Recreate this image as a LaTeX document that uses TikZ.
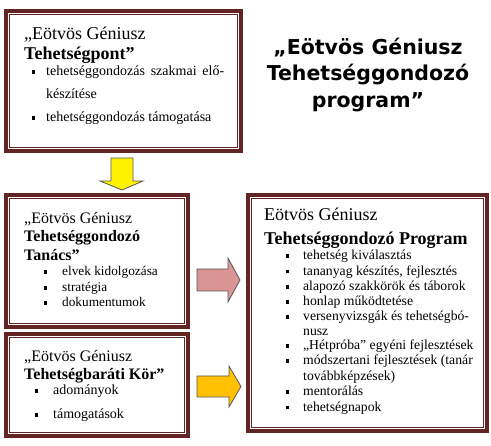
\documentclass[tikz,border=0pt]{standalone}
\usepackage{fontspec}
\setmainfont{Liberation Serif}
\newfontfamily\titlefont{DejaVu Sans}
\usepackage{tikz}

\definecolor{framered}{HTML}{632523}
\definecolor{arrowpink}{HTML}{D99594}
\definecolor{arroworange}{HTML}{FFC000}
\newcommand{\itm}[1][17.6pt]{\makebox[#1][l]{\raisebox{2.15pt}{\rule{3.4pt}{3.4pt}}}}

\begin{document}
\begin{tikzpicture}[x=1pt,y=-1pt,
  box/.style={draw=framered,line width=4pt,rectangle,inner sep=0pt,outer sep=0pt},
  inner/.style={draw=framered,line width=1.1pt},
  bighead/.style={anchor=base west,inner sep=0pt,font=\fontsize{18}{20}\selectfont},
  midhead/.style={anchor=base west,inner sep=0pt,font=\fontsize{16}{18}\selectfont},
  itemtext/.style={anchor=base west,inner sep=0pt,font=\fontsize{#1}{16}\selectfont},
  titleline/.style={anchor=base,inner sep=0pt,font=\titlefont\bfseries\fontsize{20.5}{24}\selectfont},
  blockarrow/.style={draw=black!65,line width=0.8pt,line join=miter}]
\useasboundingbox (0,0) rectangle (491,446);

% Boxes
\node[box,minimum width=235pt,minimum height=140pt] (pont) at (123.5,81) {};
\node[box,minimum width=182pt,minimum height=132pt] (tanacs) at (97,261) {};
\node[box,minimum width=182pt,minimum height=102pt] (kor) at (97,385) {};
\node[box,minimum width=239pt,minimum height=236pt] (prog) at (367.5,313) {};
\draw[inner] ([xshift=3.5pt,yshift=-3.5pt]pont.north west) rectangle ([xshift=-3.5pt,yshift=3.5pt]pont.south east);
\draw[inner] ([xshift=3.5pt,yshift=-3.5pt]tanacs.north west) rectangle ([xshift=-3.5pt,yshift=3.5pt]tanacs.south east);
\draw[inner] ([xshift=3.5pt,yshift=-3.5pt]kor.north west) rectangle ([xshift=-3.5pt,yshift=3.5pt]kor.south east);
\draw[inner] ([xshift=3.5pt,yshift=-3.5pt]prog.north west) rectangle ([xshift=-3.5pt,yshift=3.5pt]prog.south east);

% Title
\node[titleline] (ti1) at (368,54.5) {„Eötvös Géniusz};
\node[titleline] (ti2) at (368,81) {Tehetséggondozó};
\node[titleline] (ti3) at (368,107.5) {program”};

% Tehetségpont
\node[bighead] (pt1) at (24,39.3) {„Eötvös Géniusz};
\node[bighead] (pt2) at (24,59.3) {\textbf{Tehetségpont”}};
\node[itemtext=14] (pt3) at (31.35,76) {\itm[14.65pt]\makebox[178pt][s]{tehetséggondozás szakmai elő-}};
\node[itemtext=14] (pt4) at (46,99) {készítése};
\node[itemtext=14] (pt5) at (31.35,121.7) {\itm[14.65pt]tehetséggondozás támogatása};

% Tanács
\node[midhead] (tn1) at (24,223.3) {„Eötvös Géniusz};
\node[midhead] (tn2) at (24,241.7) {\textbf{Tehetséggondozó}};
\node[midhead] (tn3) at (24,260.7) {\textbf{Tanács”}};
\node[itemtext=13.3] (tn4) at (43.35,276) {\itm[18.65pt]elvek kidolgozása};
\node[itemtext=13.3] (tn5) at (43.35,291.7) {\itm[18.65pt]stratégia};
\node[itemtext=13.3] (tn6) at (43.35,306.7) {\itm[18.65pt]dokumentumok};

% Kör
\node[midhead] (kr1) at (24,361.7) {„Eötvös Géniusz};
\node[midhead] (kr2) at (24,379.3) {\textbf{Tehetségbaráti Kör”}};
\node[itemtext=14] (kr3) at (34.35,395) {\itm[18.65pt]adományok};
\node[itemtext=14] (kr4) at (34.35,419) {\itm[18.65pt]támogatások};

% Program
\node[bighead] (pr1) at (264,221) {Eötvös Géniusz};
\node[bighead] (pr2) at (264,244.5) {\textbf{Tehetséggondozó Program}};
\node[itemtext=13.7] (pr3) at (285.35,260) {\itm tehetség kiválasztás};
\node[itemtext=13.7] (pr4) at (285.35,275.3) {\itm tananyag készítés, fejlesztés};
\node[itemtext=13.7] (pr5) at (285.35,290.7) {\itm alapozó szakkörök és táborok};
\node[itemtext=13.7] (pr6) at (285.35,305.7) {\itm honlap működtetése};
\node[itemtext=13.7] (pr7) at (285.35,320.7) {\itm versenyvizsgák és tehetségbó-};
\node[itemtext=13.7] (pr8) at (303,335.7) {nusz};
\node[itemtext=13.7] (pr9) at (285.35,350) {\itm „Hétpróba” egyéni fejlesztések};
\node[itemtext=13.7] (pr10) at (285.35,365) {\itm módszertani fejlesztések (tanár};
\node[itemtext=13.7] (pr11) at (303,380.7) {továbbképzések)};
\node[itemtext=13.7] (pr12) at (285.35,395.7) {\itm mentorálás};
\node[itemtext=13.7] (pr13) at (285.35,411.3) {\itm tehetségnapok};

% Block arrows
\draw[blockarrow,fill=yellow] (111,158) -- (133,158) -- (133,181) -- (143,181) -- (122,190) -- (100,181) -- (111,181) -- cycle;
\draw[blockarrow,fill=arrowpink] (197,269) -- (228,269) -- (228,258) -- (240,280) -- (228,302) -- (228,291) -- (197,291) -- cycle;
\draw[blockarrow,fill=arroworange] (197,376) -- (229,376) -- (229,366) -- (241,386.5) -- (229,407) -- (229,397) -- (197,397) -- cycle;
\end{tikzpicture}
\end{document}
